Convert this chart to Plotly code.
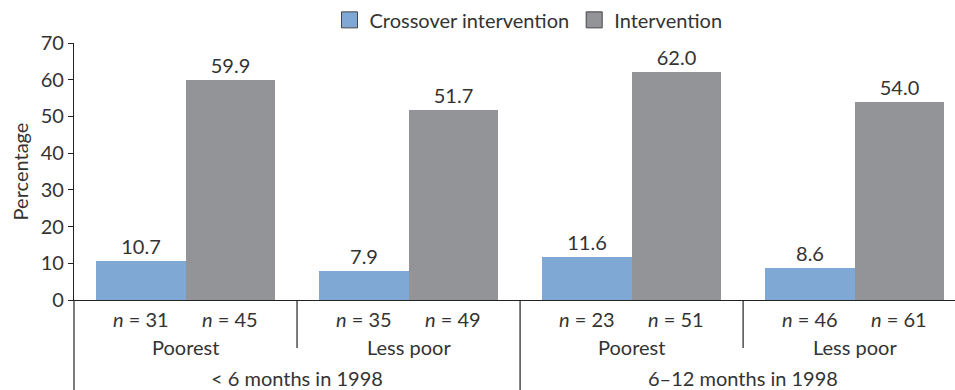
import plotly.graph_objects as go

# Survey groups and results
periods = ["< 6 months in 1998", "6–12 months in 1998"]
wealth = ["Poorest", "Less poor", "Poorest", "Less poor"]
crossover = [10.7, 7.9, 11.6, 8.6]
intervention = [59.9, 51.7, 62.0, 54.0]
n_crossover = [31, 35, 23, 46]
n_intervention = [45, 49, 51, 61]

series_names = ["Crossover intervention", "Intervention"]
colors = ["#7fa8d5", "#939498"]
text_color = "#333333"
axis_color = "#222222"
FONT = "Lato, 'Open Sans', sans-serif"
FS = 20

x_range = [0, 3.95]
group_pos = list(range(len(wealth)))
x_cross = [g + 0.3 for g in group_pos]
x_int = [g + 0.7 for g in group_pos]

fig = go.Figure()

for xs, ys, color in [(x_cross, crossover, colors[0]), (x_int, intervention, colors[1])]:
    fig.add_trace(go.Bar(
        x=xs, y=ys, width=0.4, marker=dict(color=color, line=dict(width=0)),
        text=[f"{v:.1f}" for v in ys], textposition="outside",
        textfont=dict(size=FS, color=text_color, family=FONT),
        cliponaxis=False, showlegend=False, hoverinfo="skip",
    ))

# legend entries with larger square swatches
for name, color in zip(series_names, colors):
    fig.add_trace(go.Scatter(
        x=[None], y=[None], mode="markers", name=name,
        marker=dict(symbol="square", size=16, color=color,
                    line=dict(width=1, color="#444444")),
    ))

annotations = []
# sample sizes under each bar
for xs, ns in [(x_cross, n_crossover), (x_int, n_intervention)]:
    for x, n in zip(xs, ns):
        annotations.append(dict(x=x, y=0, xref="x", yref="y", yanchor="middle",
                                yshift=-19, showarrow=False,
                                text=f"<i>n</i> = {n}"))
# wealth group labels
for g, w in zip(group_pos, wealth):
    annotations.append(dict(x=g + 0.5, y=0, xref="x", yref="y", yanchor="middle",
                            yshift=-47, showarrow=False, text=w))
# period labels
for i, p in enumerate(periods):
    annotations.append(dict(x=2 * i + 1, y=0, xref="x", yref="y", yanchor="middle",
                            yshift=-78, showarrow=False, text=p))

plot_h = 390 - 43 - 90

def paper_x(x):
    return (x - x_range[0]) / (x_range[1] - x_range[0])

shapes = []
for g in group_pos:
    depth = 90 if g % 2 == 0 else 48
    shapes.append(dict(type="line", xref="paper", yref="paper",
                       x0=paper_x(g), x1=paper_x(g), y0=0, y1=-depth / plot_h,
                       line=dict(color=axis_color, width=1.2)))

fig.update_layout(
    width=955, height=390,
    margin=dict(l=74, r=0, t=43, b=90),
    paper_bgcolor="white", plot_bgcolor="white",
    font=dict(family=FONT, size=FS, color=text_color),
    bargap=0, barmode="overlay",
    showlegend=True,
    legend=dict(orientation="h", x=0.29, y=1.09, xanchor="left", yanchor="middle",
                font=dict(size=FS, color=text_color), itemwidth=30,
                bgcolor="rgba(0,0,0,0)"),
    xaxis=dict(range=x_range, showline=True, linecolor=axis_color, linewidth=1.2,
               showticklabels=False, ticks="", showgrid=False, zeroline=False,
               fixedrange=True),
    yaxis=dict(range=[0, 70], dtick=10, ticks="outside", ticklen=5,
               tickcolor=axis_color, showline=True, linecolor=axis_color,
               linewidth=1.2, showgrid=False, zeroline=False,
               tickfont=dict(size=FS, color=text_color),
               title=dict(text="Percentage", standoff=6,
                          font=dict(size=FS, color=text_color))),
    annotations=annotations,
    shapes=shapes,
)

fig.write_html("out.html")
